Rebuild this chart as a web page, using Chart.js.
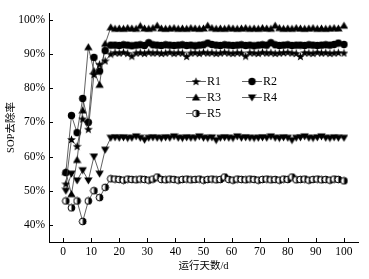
<!DOCTYPE html>
<html>
<head>
<meta charset="utf-8">
<script src="https://cdn.jsdelivr.net/npm/chart.js@4.4.0/dist/chart.umd.min.js"></script>
<style>
html, body { margin: 0; padding: 0; background: #fff; }
#wrap { width: 369px; height: 279px; }
</style>
</head>
<body>
<div id="wrap"><canvas id="sopChart" width="369" height="279"></canvas></div>
<script>
// operating days
const days = [1, 3, 5, 7, 9, 11, 13, 15, 17,
    18.5, 20, 21.5, 23, 24.5, 26, 27.5, 29, 30.5, 32,
    33.5, 35, 36.5, 38, 39.5, 41, 42.5, 44, 45.5, 47,
    48.5, 50, 51.5, 53, 54.5, 56, 57.5, 59, 60.5, 62,
    63.5, 65, 66.5, 68, 69.5, 71, 72.5, 74, 75.5, 77,
    78.5, 80, 81.5, 83, 84.5, 86, 87.5, 89, 90.5, 92,
    93.5, 95, 96.5, 98, 100];

// SOP removal rate (%)
const r1 = [52, 65, 63, 71, 68, 84, 87, 88, 90,
    90.4, 90.3, 90.5, 90.2, 89.4, 90.3, 90.4, 90.2, 90.5, 90.3,
    90.4, 90.2, 90.3, 90.5, 90.2, 90.4, 90.3, 89.3, 90.3, 90.4,
    90.2, 90.5, 90.3, 90.4, 90.2, 90.3, 90.5, 90.3, 90.2, 90.4,
    90.3, 89.4, 90.4, 90.3, 90.2, 90.5, 90.3, 90.4, 90.2, 90.3,
    90.4, 90.5, 90.3, 90.2, 89.3, 90.4, 90.3, 90.2, 90.5, 90.3,
    90.4, 90.2, 90.3, 90.4, 90.3];
const r2 = [55.3, 72, 67, 77, 70, 89, 85, 91, 92.6,
    92.6, 92.5, 92.7, 92.6, 92.4, 92.6, 92.7, 92.5, 93.3, 92.7,
    92.6, 92.5, 92.7, 92.6, 92.5, 92.6, 92.7, 92.5, 92.6, 92.4,
    92.6, 92.7, 93.2, 92.8, 92.6, 92.5, 92.7, 92.6, 92.5, 92.6,
    92.7, 92.5, 92.6, 92.4, 92.6, 92.7, 92.6, 93.3, 92.7, 92.5,
    92.6, 92.7, 92.5, 92.6, 92.6, 92.5, 92.7, 92.6, 92.5, 92.6,
    92.7, 92.6, 92.8, 93.2, 92.8];
const r3 = [55.5, 49, 59, 73.5, 92, 85, 81, 93, 97.8,
    97.4, 97.5, 97.4, 97.6, 97.5, 97.4, 98.2, 97.5, 97.4, 97.6,
    98.3, 97.5, 97.4, 97.5, 97.6, 97.4, 97.5, 97.4, 97.6, 97.5,
    97.4, 97.5, 98.3, 97.6, 97.4, 97.5, 97.4, 97.6, 97.5, 97.4,
    97.5, 97.6, 97.4, 97.5, 97.4, 97.6, 97.5, 97.4, 98.3, 97.6,
    97.4, 97.5, 97.4, 97.6, 97.5, 97.4, 97.5, 97.6, 97.4, 97.5,
    97.4, 97.5, 97.6, 97.5, 98.3];
const r4 = [50, 55, 53, 56, 53, 60, 55, 62, 65.5,
    65.6, 65.5, 65.6, 65.4, 65.5, 65.9, 65.5, 64.9, 65.5, 65.6,
    65.5, 65.4, 65.6, 65.5, 65.9, 65.5, 65.4, 65.6, 65.5, 65.5,
    65.9, 65.5, 65.4, 65.6, 64.8, 65.5, 65.6, 65.5, 65.4, 65.9,
    65.5, 65.6, 65.5, 65.4, 65.5, 65.6, 65.5, 65.9, 65.5, 65.4,
    65.6, 65.5, 64.8, 65.5, 65.6, 65.9, 65.5, 65.4, 65.6, 65.9,
    65.5, 65.4, 65.6, 65.5, 65.5];
const r5 = [47, 45, 47, 41, 47, 50, 48, 51, 53.5,
    53.4, 53.3, 53.1, 53.4, 53.3, 53.2, 53.4, 53.3, 53.1, 53.4,
    54.0, 53.3, 53.2, 53.4, 53.3, 53.1, 53.3, 53.4, 53.2, 53.3,
    53.4, 53.1, 53.3, 53.4, 53.2, 53.3, 54.0, 53.3, 53.1, 53.4,
    53.3, 53.2, 53.4, 53.3, 53.1, 53.3, 53.4, 53.2, 53.3, 53.1,
    53.4, 53.3, 54.0, 53.2, 53.3, 53.4, 53.1, 53.3, 53.4, 53.2,
    53.3, 53.1, 53.4, 53.3, 52.9];

const seriesNames = ['R1', 'R2', 'R3', 'R4', 'R5'];
const xTicks = [0, 10, 20, 30, 40, 50, 60, 70, 80, 90, 100];
const yTicks = [40, 50, 60, 70, 80, 90, 100];

const serif = "'Liberation Serif', 'Noto Sans CJK SC', serif";

// marker images
function makeMarker(kind) {
    const s = 9;
    const c = document.createElement('canvas');
    c.width = s; c.height = s;
    const g = c.getContext('2d');
    const m = s / 2;
    g.fillStyle = '#000';
    g.strokeStyle = '#000';
    g.lineWidth = 1;
    g.beginPath();
    if (kind === 'star') {
        for (let i = 0; i < 10; i++) {
            const r = i % 2 === 0 ? 4.6 : 1.9;
            const a = -Math.PI / 2 + i * Math.PI / 5;
            const px = m + r * Math.cos(a), py = m + 0.4 + r * Math.sin(a);
            if (i === 0) g.moveTo(px, py); else g.lineTo(px, py);
        }
        g.closePath();
        g.fill();
    } else if (kind === 'circle') {
        g.arc(m, m, 3.7, 0, Math.PI * 2);
        g.fill();
    } else if (kind === 'up') {
        g.moveTo(m, 0.5);
        g.lineTo(s - 0.3, s - 1.5);
        g.lineTo(0.3, s - 1.5);
        g.closePath();
        g.fill();
    } else if (kind === 'down') {
        g.moveTo(0.3, 1.5);
        g.lineTo(s - 0.3, 1.5);
        g.lineTo(m, s - 0.5);
        g.closePath();
        g.fill();
    } else {
        g.fillStyle = '#fff';
        g.arc(m, m, 3.4, 0, Math.PI * 2);
        g.fill();
        g.stroke();
        g.beginPath();
        g.fillStyle = '#000';
        g.arc(m, m, 3.4, -Math.PI / 2, Math.PI / 2);
        g.closePath();
        g.fill();
    }
    return c;
}

const markers = [makeMarker('star'), makeMarker('circle'), makeMarker('up'), makeMarker('down'), makeMarker('half')];
const seriesData = [r1, r2, r3, r4, r5];

const datasets = seriesData.map(function(vals, i) {
    return {
        label: seriesNames[i],
        data: days.map(function(d, j) { return {x: d, y: vals[j]}; }),
        borderColor: '#3a3a3a',
        borderWidth: 0.8,
        pointStyle: markers[i],
        pointRadius: 4,
        tension: 0
    };
});

// ticks pointing into the plot
const innerTicks = {
    id: 'innerTicks',
    afterDraw(chart) {
        const {ctx, chartArea: a, scales: {x, y}} = chart;
        ctx.save();
        ctx.strokeStyle = '#000';
        ctx.lineWidth = 1;
        ctx.beginPath();
        xTicks.forEach(function(v) {
            const px = Math.round(x.getPixelForValue(v)) + 0.5;
            ctx.moveTo(px, a.bottom);
            ctx.lineTo(px, a.bottom - 4);
        });
        yTicks.forEach(function(v) {
            const py = Math.round(y.getPixelForValue(v)) + 0.5;
            ctx.moveTo(a.left, py);
            ctx.lineTo(a.left + 4, py);
        });
        ctx.stroke();
        ctx.restore();
    }
};

// legend drawn inside the plot, two columns
const innerLegend = {
    id: 'innerLegend',
    afterDraw(chart) {
        const ctx = chart.ctx;
        const spots = [[186, 81], [242, 81], [186, 97], [242, 97], [186, 113]];
        ctx.save();
        ctx.font = '12px ' + serif;
        ctx.fillStyle = '#000';
        ctx.textBaseline = 'middle';
        seriesNames.forEach(function(name, i) {
            const [lx, ly] = spots[i];
            ctx.strokeStyle = '#3a3a3a';
            ctx.lineWidth = 0.8;
            ctx.beginPath();
            ctx.moveTo(lx, ly + 0.5);
            ctx.lineTo(lx + 20, ly + 0.5);
            ctx.stroke();
            const mk = markers[i];
            ctx.drawImage(mk, lx + 10 - mk.width / 2, ly - mk.height / 2 + 0.5);
            ctx.fillText(name, lx + 21, ly + 1);
        });
        ctx.restore();
    }
};

const ctx = document.getElementById('sopChart').getContext('2d');
const sopChart = new Chart(ctx, {
    type: 'line',
    data: { datasets: datasets },
    options: {
        responsive: false,
        devicePixelRatio: 1,
        animation: false,
        layout: { padding: { top: 13, right: 11, left: 0, bottom: 0 } },
        plugins: {
            legend: { display: false },
            tooltip: { enabled: false }
        },
        scales: {
            x: {
                type: 'linear',
                min: -5,
                max: 105,
                afterBuildTicks: function(s) { s.ticks = xTicks.map(function(v) { return {value: v}; }); },
                afterFit: function(s) { s.height = 37; },
                grid: { display: false, drawTicks: false },
                border: { display: true, color: '#000', width: 1 },
                ticks: { color: '#000', font: { family: serif, size: 11.5 }, padding: 3, maxRotation: 0, autoSkip: false },
                title: { display: true, text: '运行天数/d', color: '#000', font: { family: serif, size: 10.5 }, padding: { top: 0, bottom: 6 } }
            },
            y: {
                min: 35,
                max: 102,
                afterBuildTicks: function(s) { s.ticks = yTicks.map(function(v) { return {value: v}; }); },
                afterFit: function(s) { s.width = 49; },
                grid: { display: false, drawTicks: false },
                border: { display: true, color: '#000', width: 1 },
                ticks: {
                    color: '#000',
                    font: { family: serif, size: 11.5 },
                    padding: 4,
                    callback: function(value) { return value + '%'; }
                },
                title: { display: true, text: 'SOP去除率', color: '#000', font: { family: serif, size: 10.5 }, padding: { top: 5, bottom: 0 } }
            }
        }
    },
    plugins: [innerTicks, innerLegend]
});
</script>
</body>
</html>
